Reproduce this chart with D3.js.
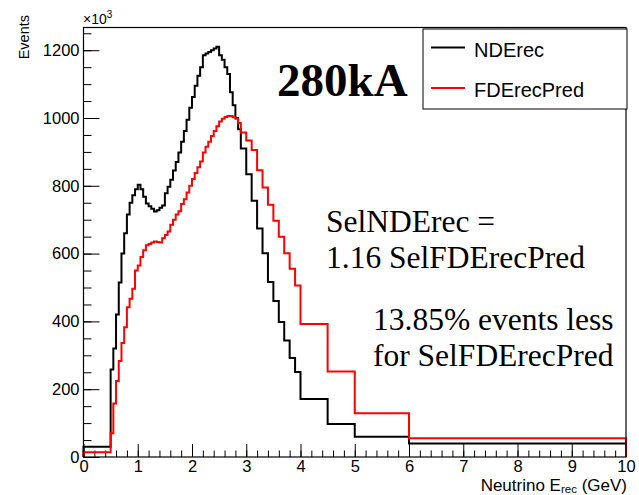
<!DOCTYPE html>
<html>
<head>
<meta charset="utf-8">
<script src="https://cdn.jsdelivr.net/npm/d3@7"></script>
<style>
  body { margin: 0; background: #fff; }
  svg { display: block; }
  text { font-family: "Liberation Sans", Arial, sans-serif; fill: #000; }
  .serif { font-family: "Liberation Serif", "Times New Roman", serif; }
</style>
</head>
<body>
<div id="container"></div>
<script>
// bin edges (GeV): one wide bin, fine 0.05 bins, 0.1 bins, then wide tail bins
const binEdges = [0, 0.5, 0.55, 0.6, 0.65, 0.7, 0.75, 0.8, 0.85, 0.9, 0.95,
  1.0, 1.05, 1.1, 1.15, 1.2, 1.25, 1.3, 1.35, 1.4, 1.45,
  1.5, 1.55, 1.6, 1.65, 1.7, 1.75, 1.8, 1.85, 1.9, 1.95,
  2.0, 2.05, 2.1, 2.15, 2.2, 2.25, 2.3, 2.35, 2.4, 2.45,
  2.5, 2.55, 2.6, 2.65, 2.7, 2.75, 2.8, 2.85, 2.9,
  3.0, 3.1, 3.2, 3.3, 3.4, 3.5, 3.6, 3.7, 3.8, 3.9, 4.0,
  4.5, 5, 6, 10];

// events (x10^3) per bin
const ndErec = [30,
  258, 320, 420, 515, 600, 660, 715, 750, 772, 790,
  803, 790, 768, 748, 740, 732, 724, 728, 735, 742,
  778, 797, 818, 845, 870, 898, 930, 962, 995, 1030,
  1062, 1095, 1125, 1150, 1185, 1190, 1195, 1200, 1205, 1210,
  1185, 1172, 1150, 1130, 1076, 1038, 1000, 967,
  910, 834, 756, 674, 601, 516, 460, 398, 344, 292, 251,
  171, 97, 60, 40];

const fdErecPred = [14,
  70, 158, 224, 283, 336, 383, 442, 467, 496, 550,
  565, 590, 610, 625, 628, 633, 636, 634, 633, 645,
  655, 665, 685, 700, 715, 725, 746, 760, 780, 800,
  820, 838, 855, 872, 898, 915, 930, 947, 962, 976,
  990, 998, 1003, 1006, 1006, 1002, 998, 985,
  957, 934, 906, 846, 795, 744, 697, 650, 601, 555, 506,
  392, 252, 129, 55];

const xMajorTicks = [0, 1, 2, 3, 4, 5, 6, 7, 8, 9, 10];
const yMajorTicks = [0, 200, 400, 600, 800, 1000, 1200];
const seriesNames = ["NDErec", "FDErecPred"];
const seriesColors = ["#000000", "#ff0000"];

const W = 639, H = 495;
const frame = {left: 83.5, right: 626, top: 27.5, bottom: 457};

var svg = d3.select("div#container")
  .append("svg")
  .attr("width", W)
  .attr("height", H);

var x = d3.scaleLinear().domain([0, 10]).range([frame.left, frame.right]);
var y = d3.scaleLinear().domain([0, 1267]).range([frame.bottom, frame.top]);

// minor ticks
var xMinor = d3.range(0, 10.001, 0.2);
var yMinor = d3.range(0, 1251, 50);

svg.append("g")
  .attr("transform", "translate(0," + frame.bottom + ")")
  .call(d3.axisBottom(x).tickValues(xMinor).tickSize(-6.5).tickFormat(""))
  .call(g => g.select(".domain").remove());

svg.append("g")
  .attr("transform", "translate(0," + frame.bottom + ")")
  .call(d3.axisBottom(x).tickValues(xMajorTicks).tickSize(-13).tickPadding(3).tickFormat(d3.format("d")))
  .call(g => g.select(".domain").remove())
  .selectAll("text").style("font-size", "16.5px");

svg.append("g")
  .attr("transform", "translate(" + frame.left + ",0)")
  .call(d3.axisLeft(y).tickValues(yMinor).tickSize(-8).tickFormat(""))
  .call(g => g.select(".domain").remove());

svg.append("g")
  .attr("transform", "translate(" + frame.left + ",0)")
  .call(d3.axisLeft(y).tickValues(yMajorTicks).tickSize(-16).tickPadding(4).tickFormat(d3.format("d")))
  .call(g => g.select(".domain").remove())
  .selectAll("text").style("font-size", "16.5px");

svg.selectAll(".tick line").attr("stroke", "#000").attr("stroke-width", 1);

// histograms
function histPath(vals) {
  var pts = [[binEdges[0], 0]];
  vals.forEach(function(v, i) {
    pts.push([binEdges[i], v]);
    pts.push([binEdges[i + 1], v]);
  });
  pts.push([binEdges[binEdges.length - 1], 0]);
  return d3.line().x(d => x(d[0])).y(d => y(d[1]))(pts);
}

[ndErec, fdErecPred].forEach(function(vals, i) {
  svg.append("path")
    .attr("d", histPath(vals))
    .attr("fill", "none")
    .attr("stroke", seriesColors[i])
    .attr("stroke-width", 2);
});

// frame
svg.append("rect")
  .attr("x", frame.left).attr("y", frame.top)
  .attr("width", frame.right - frame.left)
  .attr("height", frame.bottom - frame.top)
  .attr("fill", "none").attr("stroke", "#000").attr("stroke-width", 1.2);

// axis titles
svg.append("text")
  .attr("transform", "translate(29,15) rotate(-90)")
  .attr("text-anchor", "end")
  .style("font-size", "14.5px")
  .text("Events");

var expo = svg.append("text").attr("x", 83).attr("y", 24).style("font-size", "14px");
expo.append("tspan").text("\u00d710");
expo.append("tspan").attr("dy", -6).style("font-size", "10px").text("3");

var xt = svg.append("text")
  .attr("x", 627).attr("y", 490.5)
  .attr("text-anchor", "end")
  .style("font-size", "17px");
xt.append("tspan").text("Neutrino E");
xt.append("tspan").attr("dy", 2.5).style("font-size", "11.5px").text("rec");
xt.append("tspan").attr("dy", -2.5).text(" (GeV)");

// legend
var leg = svg.append("g");
leg.append("rect")
  .attr("x", 423).attr("y", 29).attr("width", 204).attr("height", 80)
  .attr("fill", "#fff").attr("stroke", "#000").attr("stroke-width", 1);
seriesNames.forEach(function(name, i) {
  var ly = 47.5 + i * 40.5;
  leg.append("line")
    .attr("x1", 431).attr("x2", 465).attr("y1", ly).attr("y2", ly)
    .attr("stroke", seriesColors[i]).attr("stroke-width", 2);
  leg.append("text")
    .attr("x", 474).attr("y", ly + 9)
    .style("font-size", "20px")
    .text(name);
});

// annotations
svg.append("text").attr("class", "serif")
  .attr("x", 277).attr("y", 96)
  .style("font-size", "47px").style("font-weight", "bold")
  .text("280kA");

var notes = [
  ["SelNDErec =", 326, 232],
  ["1.16 SelFDErecPred", 326, 268],
  ["13.85% events less", 373, 330],
  ["for SelFDErecPred", 373, 366]
];
notes.forEach(function(n) {
  svg.append("text").attr("class", "serif")
    .attr("x", n[1]).attr("y", n[2])
    .style("font-size", "31.5px")
    .text(n[0]);
});
</script>
</body>
</html>
